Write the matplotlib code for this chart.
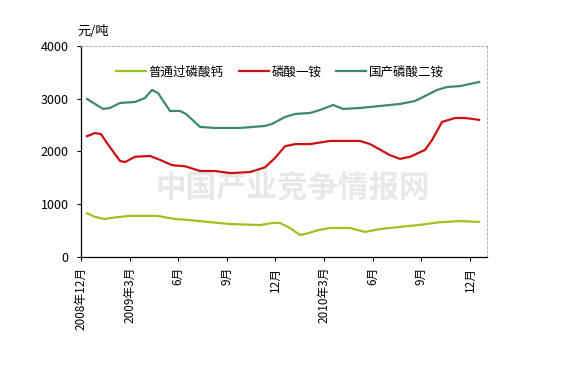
import matplotlib
matplotlib.use('Agg')
import matplotlib.pyplot as plt

plt.rcParams['font.family'] = ['Noto Sans CJK SC', 'DejaVu Sans']

# x = months since 2008-12, y = yuan / ton
dap_x = [0.37, 1.36, 1.79, 2.41, 3.33, 3.95, 4.38, 4.75, 5.49, 6.11, 6.48, 7.35, 8.27,
         9.81, 11.36, 11.79, 12.59, 13.21, 14.14, 14.75, 15.56, 16.17, 17.22, 18.46,
         19.69, 20.62, 21.98, 22.59, 23.4, 24.57]
dap_y = [2996, 2806, 2825, 2920, 2939, 3015, 3166, 3109, 2768, 2768, 2711, 2465, 2446,
         2446, 2484, 2522, 2654, 2711, 2730, 2787, 2882, 2806, 2825, 2863,
         2901, 2958, 3166, 3223, 3240, 3318]

map_x = [0.37, 0.86, 1.23, 1.67, 2.41, 2.72, 3.33, 4.26, 4.88, 5.62, 6.42, 7.35, 8.27,
         9.2, 10.43, 11.36, 11.98, 12.59, 13.21, 14.14, 15.37, 16.3, 17.22, 17.84,
         19.07, 19.69, 20.31, 21.23, 21.67, 22.28, 23.09, 23.7, 24.57]
map_y = [2290, 2350, 2330, 2130, 1820, 1800, 1900, 1915, 1840, 1740, 1720, 1630, 1630,
         1590, 1610, 1700, 1880, 2100, 2140, 2140, 2200, 2200, 2200, 2140,
         1930, 1860, 1900, 2030, 2220, 2560, 2635, 2635, 2600]

ssp_x = [0.37, 0.86, 1.48, 2.1, 3.02, 4.69, 5.8, 6.73, 7.96, 9.2, 11.05, 11.79, 12.28,
         12.9, 13.52, 14.01, 14.63, 15.37, 16.6, 17.53, 18.46, 19.69, 20.93, 22.16,
         23.4, 24.57]
ssp_y = [830, 760, 720, 750, 780, 780, 720, 700, 660, 625, 605, 645, 645,
         550, 415, 450, 510, 550, 550, 475, 530, 570, 610, 660,
         680, 665]

tick_pos = [0, 3, 6, 9, 12, 15, 18, 21, 24]
tick_labels = ['2008年12月', '2009年3月', '6月', '9月', '12月', '2010年3月', '6月', '9月', '12月']

fig = plt.figure(figsize=(5.73, 3.80), dpi=100)
ax = fig.add_axes([0.1414, 0.3237, 0.7086, 0.5553])

# watermark
ax.text(0.52, 0.33, '中国产业竞争情报网', transform=ax.transAxes, ha='center', va='center',
        fontsize=22, color='#e8e8e8', fontweight='bold', zorder=0)

ax.plot(ssp_x, ssp_y, color='#9dc31c', linewidth=1.6, label='普通过磷酸钙')
ax.plot(map_x, map_y, color='#cc1111', linewidth=1.6, label='磷酸一铵')
ax.plot(dap_x, dap_y, color='#3d8a6a', linewidth=1.6, label='国产磷酸二铵')

ax.set_xlim(0, 25.06)
ax.set_ylim(0, 4000)
ax.set_yticks([0, 1000, 2000, 3000, 4000])
ax.set_xticks(tick_pos)
ax.set_xticklabels(tick_labels, rotation=90, fontsize=8.5)
ax.tick_params(axis='y', labelsize=9, length=3, direction='out', pad=6)
ax.tick_params(axis='x', length=3, direction='out', pad=4)

for s in ['top', 'right']:
    ax.spines[s].set_linestyle((0, (2, 2)))
    ax.spines[s].set_color('#b8b8b8')
    ax.spines[s].set_linewidth(0.8)
for s in ['left', 'bottom']:
    ax.spines[s].set_color('black')
    ax.spines[s].set_linewidth(0.9)

ax.text(-0.01, 1.04, '元/吨', transform=ax.transAxes, ha='left', va='bottom', fontsize=9.5)

ax.legend(loc='upper center', bbox_to_anchor=(0.49, 0.96), ncol=3, frameon=False,
          fontsize=9, handlelength=2.4, handletextpad=0.2, columnspacing=1.2)

fig.savefig('out.png', dpi=100)
